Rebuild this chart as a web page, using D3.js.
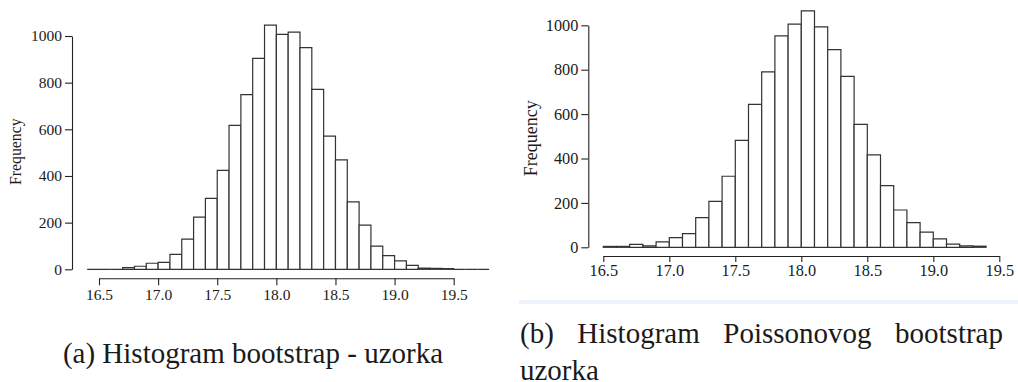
<!DOCTYPE html>
<meta charset="utf-8">
<title>bootstrap histograms</title>
<style>
body {
  margin: 0px;
  background: #fff;
}
svg {
  display: block;
  font-family: "Liberation Serif", "Times New Roman", Times, serif;
}
text {
  font-family: "Liberation Serif", "Times New Roman", Times, serif;
  fill: #1a1a1a;
}
.axis path, .axis line {
  stroke: #222;
  stroke-width: 1.1;
}
path.bar {
  fill: #fff;
  stroke: #333;
  stroke-width: 1.2;
}
</style>

<script src="https://d3js.org/d3.v7.min.js"></script>

<body>
<script>
var width = 1018, height = 382;
var serif = "'Liberation Serif', 'Times New Roman', Times, serif";

// (a) bootstrap sample: lower bin edges and counts (bin width 0.1)
var binsA = [16.4, 16.5, 16.6, 16.7, 16.8, 16.9, 17.0, 17.1, 17.2, 17.3, 17.4, 17.5,
             17.6, 17.7, 17.8, 17.9, 18.0, 18.1, 18.2, 18.3, 18.4, 18.5, 18.6, 18.7,
             18.8, 18.9, 19.0, 19.1, 19.2, 19.3, 19.4, 19.5, 19.6, 19.7];
var countsA = [0, 0, 0, 7, 13, 26, 30, 64, 129, 224, 304, 424,
               617, 749, 904, 1047, 1007, 1017, 950, 771, 571, 469, 289, 189,
               99, 59, 36, 17, 5, 4, 3, 0, 0, 0];

// (b) Poisson bootstrap sample
var binsB = [16.5, 16.6, 16.7, 16.8, 16.9, 17.0, 17.1, 17.2, 17.3, 17.4, 17.5, 17.6,
             17.7, 17.8, 17.9, 18.0, 18.1, 18.2, 18.3, 18.4, 18.5, 18.6, 18.7, 18.8,
             18.9, 19.0, 19.1, 19.2, 19.3];
var countsB = [4, 4, 13, 6, 24, 44, 62, 134, 207, 320, 482, 644,
               790, 952, 1005, 1065, 993, 890, 770, 554, 416, 278, 168, 111,
               68, 38, 14, 6, 5];

var binWidth = 0.1;
var xTicks = [16.5, 17.0, 17.5, 18.0, 18.5, 19.0, 19.5];
var yTicks = [0, 200, 400, 600, 800, 1000];
var captionA = "(a) Histogram bootstrap - uzorka";
var captionB = ["(b)", "Histogram", "Poissonovog", "bootstrap"];
var captionB2 = "uzorka";

var svg = d3.select("body").append("svg")
    .attr("width", width)
    .attr("height", height);

// light strip under the right panel
svg.append("rect")
    .attr("x", 519).attr("y", 300)
    .attr("width", width - 519).attr("height", 4)
    .attr("fill", "#eef2fa");

function histogram(opt) {
  var g = svg.append("g");
  var x = d3.scaleLinear().domain([16.5, 19.5]).range(opt.xr);
  var y = d3.scaleLinear().domain([0, 1000]).range(opt.yr);

  var data = opt.bins.map(function(b, i) { return {x0: b, n: opt.counts[i]}; });

  g.selectAll("path.bar")
      .data(data)
    .enter().append("path")
      .attr("class", "bar")
      .attr("d", function(d) {
        var a = x(d.x0), b = x(d.x0 + binWidth), y0 = y(0), y1 = y(d.n);
        return "M" + a + "," + y0 + "V" + y1 + "H" + b + "V" + y0 + "Z";
      });

  var ya = g.append("g")
      .attr("class", "axis")
      .attr("transform", "translate(" + opt.yAxisX + ",0)")
      .call(d3.axisLeft(y).tickValues(yTicks).tickSize(7).tickSizeOuter(0)
            .tickPadding(3).tickFormat(d3.format("d")));

  var xa = g.append("g")
      .attr("class", "axis")
      .attr("transform", "translate(0," + opt.xAxisY + ")")
      .call(d3.axisBottom(x).tickValues(xTicks).tickSize(opt.xTick).tickSizeOuter(0)
            .tickPadding(opt.xPad).tickFormat(d3.format(".1f")));

  [ya, xa].forEach(function(a) {
    a.attr("font-family", serif).attr("font-size", null);
    a.selectAll("text")
        .style("font-family", serif)
        .style("font-size", opt.fs + "px")
        .attr("fill", "#1a1a1a");
  });

  g.append("text")
      .attr("transform", "translate(" + opt.lab[0] + "," + opt.lab[1] + ") rotate(-90)")
      .attr("text-anchor", "middle")
      .style("font-family", serif)
      .style("font-size", opt.labFs + "px")
      .text("Frequency");
}

histogram({bins: binsA, counts: countsA, xr: [99, 453.7], yr: [269.3, 36],
           yAxisX: 72, xAxisY: 278.3, xTick: 7, xPad: 4, fs: 15.5,
           lab: [20.5, 151.7], labFs: 15.8});

histogram({bins: binsB, counts: countsB, xr: [603.3, 999.3], yr: [247.3, 25.3],
           yAxisX: 588.3, xAxisY: 256, xTick: 6, xPad: 2, fs: 16.3,
           lab: [536.5, 138.3], labFs: 18});

// captions
svg.append("text")
    .attr("x", 253).attr("y", 363.3)
    .attr("text-anchor", "middle")
    .style("font-family", serif)
    .style("font-size", "29px")
    .text(captionA);

// justified first line of caption (b)
var left = 520, right = 1003;
var words = svg.append("g").selectAll("text")
    .data(captionB)
  .enter().append("text")
    .attr("y", 343.3)
    .style("font-family", serif)
    .style("font-size", "29px")
    .text(function(d) { return d; });
var widths = [];
words.each(function() { widths.push(this.getComputedTextLength()); });
var gap = (right - left - d3.sum(widths)) / (captionB.length - 1);
var cx = left;
words.attr("x", function(d, i) { var p = cx; cx += widths[i] + gap; return p; });

svg.append("text")
    .attr("x", left).attr("y", 379.5)
    .style("font-family", serif)
    .style("font-size", "29px")
    .text(captionB2);
</script>
